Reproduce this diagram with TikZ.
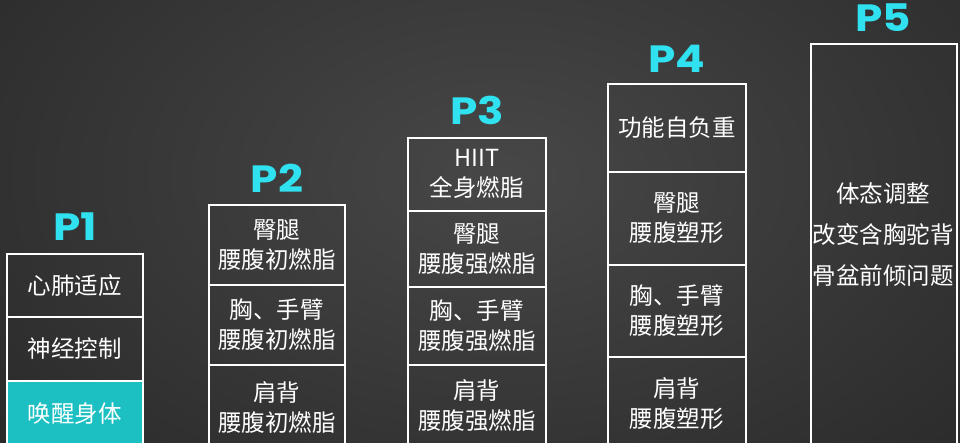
\documentclass[tikz,border=0pt]{standalone}
\usepackage{fontspec}
\usepackage{graphicx}
\newfontfamily\cjk{Noto Sans CJK SC}
\newfontfamily\headfont{Poppins}
\definecolor{bgdark}{HTML}{262626}
\definecolor{bgmid}{HTML}{474747}
\definecolor{cyanhead}{HTML}{30E2F0}
\definecolor{cyanfill}{HTML}{1CC0C2}
\newcommand{\wide}[1]{\scalebox{1.15}[1]{#1}}
\begin{document}
\begin{tikzpicture}[x=1pt,y=-1pt,
  cell/.style={draw=white, line width=1.6pt, anchor=north west, inner sep=0pt,
    font=\cjk\fontsize{23.5}{30}\selectfont, text=white, align=center},
  head/.style={text=cyanhead, inner sep=0pt, font=\headfont\bfseries\fontsize{38}{38}\selectfont}]
\useasboundingbox (0,0) rectangle (960,442);
\clip (0,0) rectangle (960,442);
\shade[inner color=bgmid, outer color=bgdark] (-250,-300) rectangle (1250,650);
% P1
\node[head] (h1) at (75,227) {\wide{P1}};
\node[cell, minimum width=136, minimum height=63] (p1a) at (6,253) {心肺适应};
\node[cell, minimum width=136, minimum height=64] (p1b) at (6,316) {神经控制};
\node[cell, fill=cyanfill, minimum width=136, minimum height=66] (p1c) at (6,380) {唤醒身体};
% P2
\node[head] (h2) at (277,178) {\wide{P2}};
\node[cell, minimum width=136, minimum height=80] (p2a) at (208,204) {臀腿\\腰腹初燃脂};
\node[cell, minimum width=136, minimum height=80] (p2b) at (208,284) {胸、手臂\\腰腹初燃脂};
\node[cell, minimum width=136, minimum height=86] (p2c) at (208,364) {肩背\\腰腹初燃脂};
% P3
\node[head] (h3) at (477,110) {\wide{P3}};
\node[cell, minimum width=138, minimum height=73] (p3a) at (407,137) {HIIT\\全身燃脂};
\node[cell, minimum width=138, minimum height=76] (p3b) at (407,210) {臀腿\\腰腹强燃脂};
\node[cell, minimum width=138, minimum height=78] (p3c) at (407,286) {胸、手臂\\腰腹强燃脂};
\node[cell, minimum width=138, minimum height=82] (p3d) at (407,364) {肩背\\腰腹强燃脂};
% P4
\node[head] (h4) at (677,59) {\wide{P4}};
\node[cell, minimum width=138, minimum height=88] (p4a) at (607,83) {功能自负重};
\node[cell, minimum width=138, minimum height=93] (p4b) at (607,171) {臀腿\\腰腹塑形};
\node[cell, minimum width=138, minimum height=92] (p4c) at (607,264) {胸、手臂\\腰腹塑形};
\node[cell, minimum width=138, minimum height=94] (p4d) at (607,356) {肩背\\腰腹塑形};
% P5
\node[head] (h5) at (883,18) {\wide{P5}};
\node[cell, minimum width=146, minimum height=420] (p5) at (810,43) {};
\node[text=white, align=center, font=\cjk\fontsize{23.5}{41}\selectfont] (p5t) at (883,235) {体态调整\\改变含胸驼背\\骨盆前倾问题};
\end{tikzpicture}
\end{document}
